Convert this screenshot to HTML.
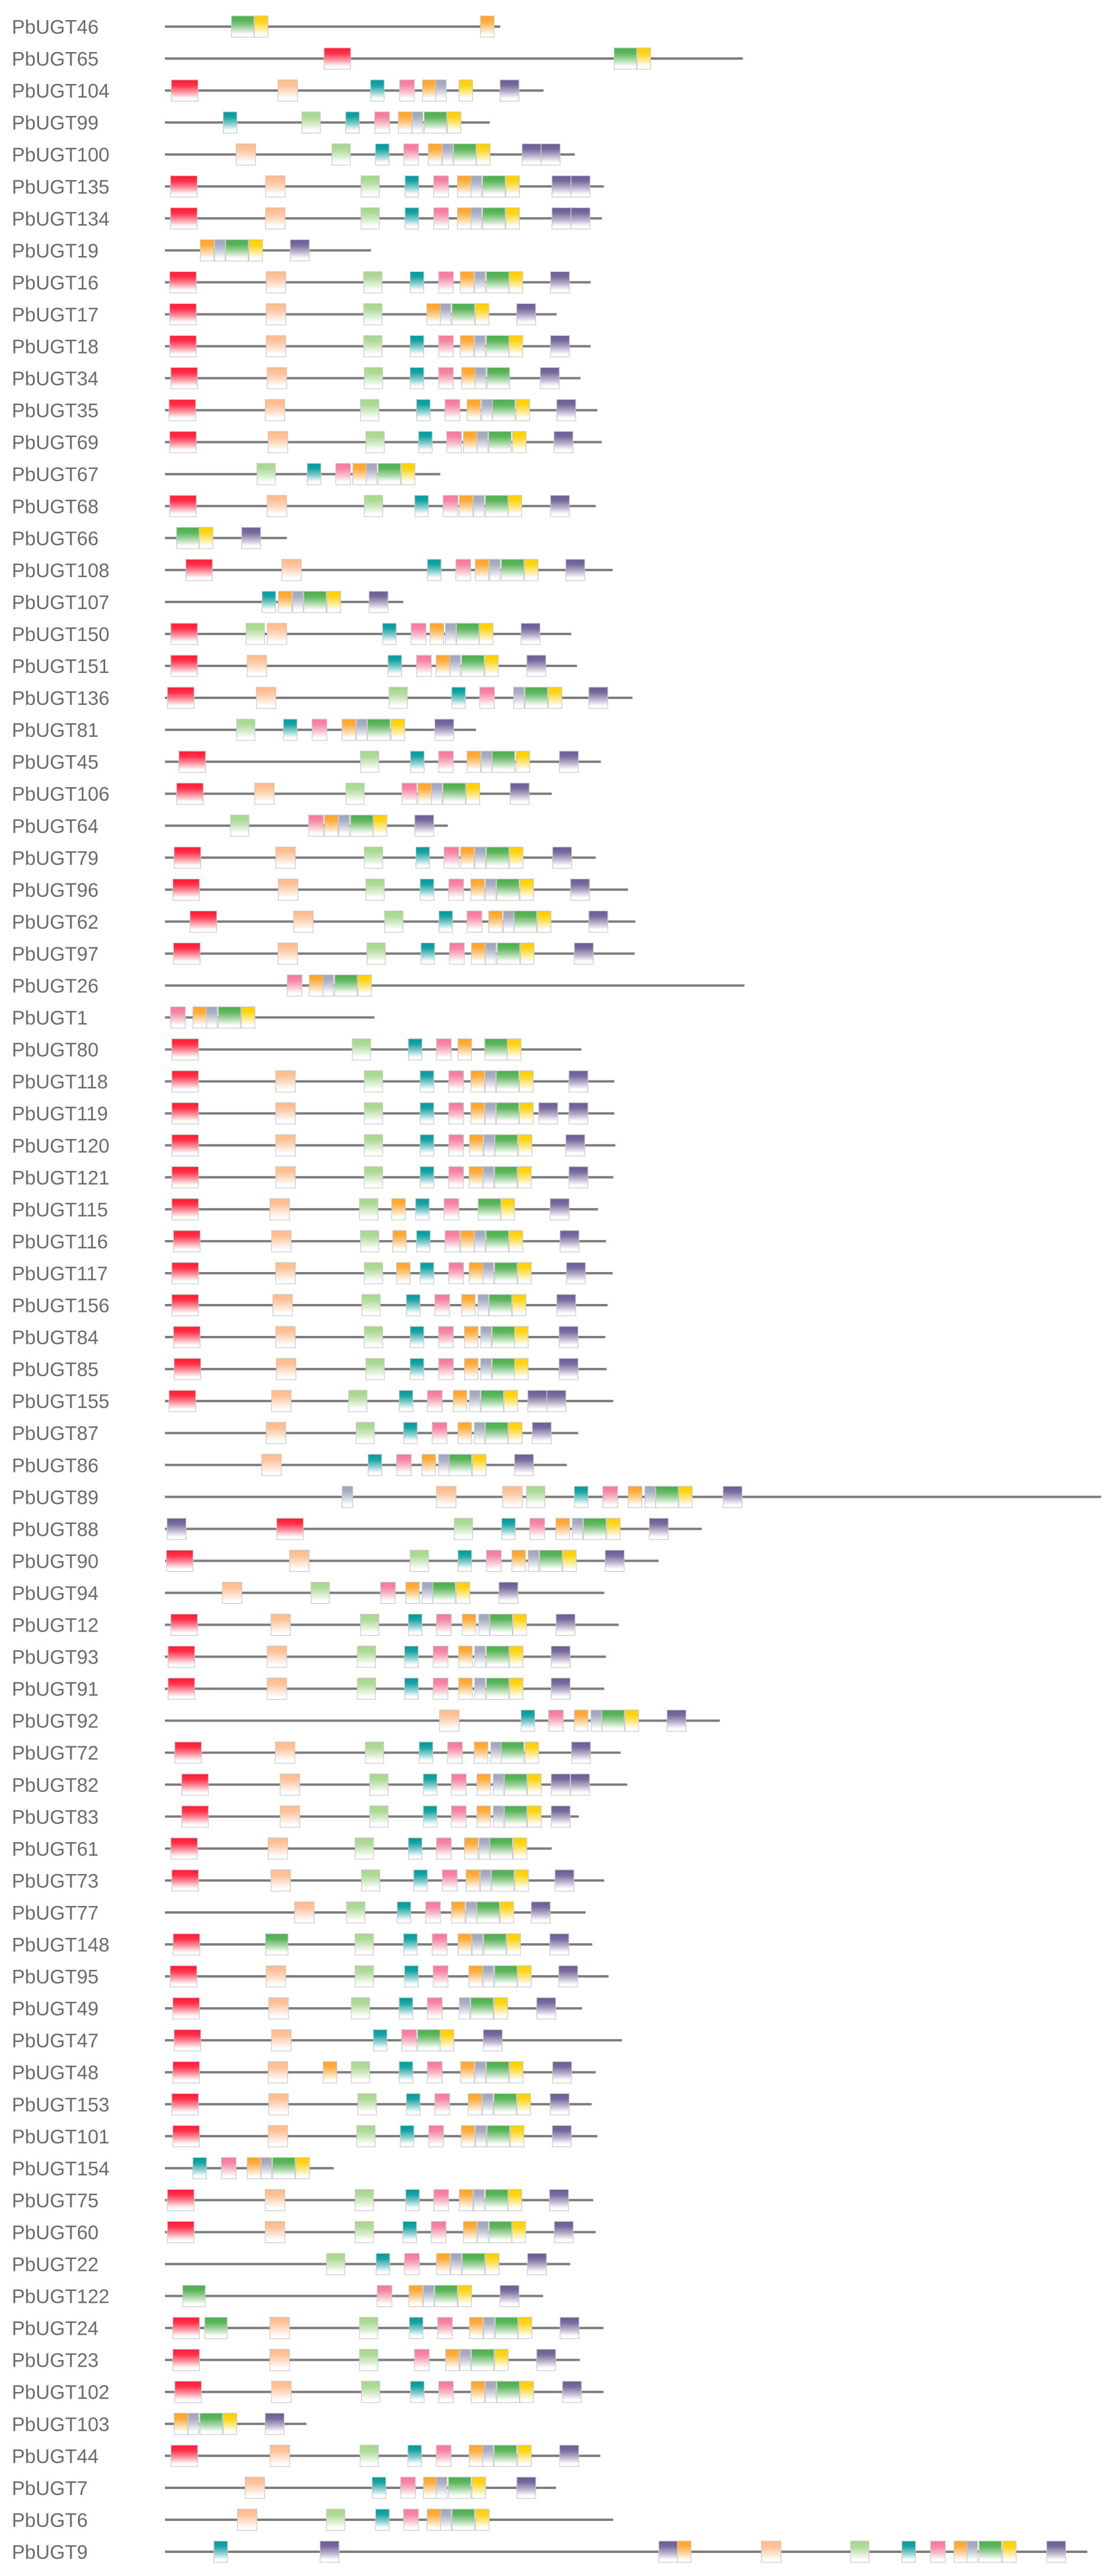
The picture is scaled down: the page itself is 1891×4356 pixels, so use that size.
<!DOCTYPE html>
<html>
<head>
<meta charset="utf-8">
<style>
  html,body{margin:0;padding:0;background:#fff;}
  #chart{display:block;}
</style>
</head>
<body>
<svg id="chart" width="1891" height="4356" xmlns="http://www.w3.org/2000/svg">
  <defs id="defs"></defs>
  <g id="rows"></g>
</svg>
<script>
const genes = ["PbUGT46","PbUGT65","PbUGT104","PbUGT99","PbUGT100","PbUGT135","PbUGT134","PbUGT19","PbUGT16","PbUGT17","PbUGT18","PbUGT34","PbUGT35","PbUGT69","PbUGT67","PbUGT68","PbUGT66","PbUGT108","PbUGT107","PbUGT150","PbUGT151","PbUGT136","PbUGT81","PbUGT45","PbUGT106","PbUGT64","PbUGT79","PbUGT96","PbUGT62","PbUGT97","PbUGT26","PbUGT1","PbUGT80","PbUGT118","PbUGT119","PbUGT120","PbUGT121","PbUGT115","PbUGT116","PbUGT117","PbUGT156","PbUGT84","PbUGT85","PbUGT155","PbUGT87","PbUGT86","PbUGT89","PbUGT88","PbUGT90","PbUGT94","PbUGT12","PbUGT93","PbUGT91","PbUGT92","PbUGT72","PbUGT82","PbUGT83","PbUGT61","PbUGT73","PbUGT77","PbUGT148","PbUGT95","PbUGT49","PbUGT47","PbUGT48","PbUGT153","PbUGT101","PbUGT154","PbUGT75","PbUGT60","PbUGT22","PbUGT122","PbUGT24","PbUGT23","PbUGT102","PbUGT103","PbUGT44","PbUGT7","PbUGT6","PbUGT9"];

const lengths = [204,351.6,230.4,197.6,249.4,267,265.8,125.4,259,238.3,259,252.8,263.1,265.8,167.5,262.1,74.2,272.4,145,247.2,250.7,284.4,189.2,265.2,235.3,172.1,262.1,281.7,286.2,285.8,352.6,127.5,253.4,273.4,273.4,274,272.8,263.5,268.3,272.4,269.3,267.9,268.7,272.8,251.4,244.5,569.6,326.6,300.3,267.3,276.1,268.3,267.3,337.6,277.2,281.3,251.8,235.3,267.3,255.9,260,269.9,253.8,278,262.1,259.6,263.1,102.7,260.6,262.1,246.6,230.1,266.8,252.4,266.8,86,264.9,238,272.7,561.2];

const motifs = [
 "G 40.5|Y 54.4|O 192",
 "R 96.8|G 273.3|Y 287.2",
 "R 3.9|P 68.8|T 125.1|K 142.8|O 156.7|S 164.7|Y 178.9|V 203.9",
 "T 35.5|L 83.4|T 110|K 127.6|O 142|S 150.4|G 157.7|Y 171.8",
 "P 43.3|L 101.6|T 128.1|K 145.3|O 160.2|S 168.8|G 175.6|Y 189.5|V 217.3|V 228.9",
 "R 3.4|P 61.2|L 119.3|T 146.1|K 163.5|O 177.9|S 186.2|G 193.3|Y 207.4|V 235.5|V 247.1",
 "R 3.4|P 61.2|L 119.3|T 146.1|K 163.5|O 177.9|S 186.2|G 193.3|Y 207.4|V 235.5|V 247.1",
 "O 21.5|S 30.2|G 37|Y 51.1|V 76.3",
 "R 2.9|P 61.6|L 120.9|T 149.2|K 166.5|O 179.7|S 188.4|G 195.6|Y 209.4|V 234.6",
 "R 2.9|P 61.6|L 120.9|O 159.3|S 167.5|G 174.7|Y 188.8|V 214",
 "R 2.9|P 61.6|L 120.9|T 149.2|K 166.5|O 179.7|S 188.4|G 195.6|Y 209.4|V 234.6",
 "R 3.6|P 62.2|L 121.3|T 149.2|K 166.5|O 180.5|S 188.8|G 196|V 228.4",
 "R 2.5|P 61|L 119|T 153.1|K 170.4|O 183.8|S 192.7|G 199.3|Y 213.6|V 238.4",
 "R 2.9|P 62.8|L 122.3|T 154.3|K 171.4|O 181.6|S 190|G 197|Y 211.5|V 236.7",
 "L 56|T 86.6|K 103.9|O 114.3|S 122.5|G 129.7|Y 143.8",
 "R 2.9|P 62.2|L 121.3|T 152|K 169.2|O 179.1|S 187.8|G 195|Y 208.8|V 234.6",
 "G 7.1|Y 20.9|V 46.7",
 "R 12.7|P 71.1|T 159.7|K 177|O 188.8|S 197.5|G 204.7|Y 218.7|V 243.9",
 "T 59.1|O 69|S 77.7|G 84.5|Y 98.6|V 124.2",
 "R 3.6|L 49.4|P 62.2|T 132.4|K 149.8|O 161.3|S 170.6|G 177.4|Y 191.3|V 216.7",
 "R 3.6|P 50|T 135.7|K 153.1|O 165|S 173.3|G 180.5|Y 194.6|V 220.2",
 "R 1.5|P 55.6|L 136.3|T 174.5|K 191.5|S 212.1|G 219.1|Y 233.2|V 257.9",
 "L 43.6|T 72.1|K 89.5|O 107.8|S 116.5|G 123.3|Y 137.6|V 164.2",
 "R 8.5|L 119|T 149.4|K 166.5|O 183.8|S 192.5|G 199.1|Y 213.6|V 240",
 "R 7.1|P 54.6|L 110.1|K 144.2|O 153.9|S 162.2|G 169.2|Y 183.2|V 210.1",
 "L 39.9|K 87.4|O 97.1|S 105.8|G 113|Y 126.8|V 152",
 "R 5.6|P 67.4|L 121.3|T 152.7|K 169.8|O 179.9|S 188.6|G 195.6|Y 209.6|V 235.9",
 "R 4.8|P 69|L 122.3|T 155.3|K 172.7|O 186.1|S 195|G 201.8|Y 216|V 246.8",
 "R 15.3|P 78.3|L 133.7|T 166.7|K 183.8|O 197|S 205.9|G 212.5|Y 226.6|V 257.9",
 "R 5.2|P 68.8|L 122.9|T 155.8|K 173.1|O 186.5|S 195|G 202.2|Y 216.3|V 249.1",
 "K 74.4|O 87.8|S 96.1|G 103.3|Y 117.3",
 "K 3.4|O 17|S 25.3|G 32.5|Y 46.5",
 "R 4.2|L 114|T 148.1|K 165.2|O 178.3|G 194.6|Y 208.4",
 "R 4.2|P 67.4|L 121.3|T 155.3|K 172.7|O 186.1|S 194.8|G 201.6|Y 215.8|V 245.8",
 "R 4.2|P 67.4|L 121.3|T 155.3|K 172.7|O 186.1|S 194.8|G 201.6|Y 215.8|V 227.4|V 245.8",
 "R 4.2|P 67.4|L 121.3|T 155.3|K 172.7|O 185.3|S 194|G 200.8|Y 215|V 243.9",
 "R 4.2|P 67.4|L 121.3|T 155.3|K 172.7|O 185.1|S 193.6|G 200.6|Y 214.6|V 245.8",
 "R 4.2|P 63.9|L 118.4|O 138|T 152.5|K 169.8|G 190.6|Y 204.5|V 234.4",
 "R 5.2|P 64.9|L 119|O 138.6|T 153.1|K 170.4|O 179.9|S 188.4|G 195.4|Y 209.4|V 240.4",
 "R 4.2|P 67.4|L 121.3|O 140.9|T 155.3|K 172.7|O 185.1|S 193.5|G 200.6|Y 214.6|V 244.3",
 "R 4.2|P 65.7|L 119.8|T 146.9|K 164.2|O 180.5|S 190.4|G 197.3|Y 211.3|V 238.4",
 "R 5.2|P 67.4|L 121.3|T 149.2|K 166.5|O 182.2|S 192.1|G 199.1|Y 212.7|V 239.8",
 "R 5.6|P 67.8|L 122.3|T 149.2|K 166.5|O 182.2|S 192.1|G 199.1|Y 212.7|V 239.8",
 "R 2.5|P 64.9|L 111.8|T 142.5|K 159.7|O 175.4|S 185.3|G 192.3|Y 206.3|V 220.8|V 232.4",
 "P 61.6|L 116.3|T 145.2|K 162.6|O 178.3|S 188.2|G 195|Y 209|V 223.5",
 "P 58.9|T 123.6|K 140.9|O 156.4|S 166.5|G 172.9|Y 187.1|V 212.7",
 "S 107.8|P 165.2|P 205.5|L 220|T 249.1|K 266.4|O 281.9|S 292|G 298.6|Y 312.6|V 339.6",
 "V 1.3|R 68|L 176|T 204.9|K 222|O 237.9|S 247.8|G 254.7|Y 268.7|V 294.7",
 "R 0.9|P 75.8|L 149.2|T 178.3|K 195.6|O 211.1|S 221|G 228|Y 242|V 267.9",
 "P 34.9|L 88.9|K 131.2|O 146.5|S 156.4|G 163|Y 177.2|V 203.2",
 "R 3.6|P 64.5|L 119|T 148.1|K 165.2|O 180.9|S 190.9|G 197.7|Y 211.7|V 238",
 "R 1.9|P 62.2|L 117|T 145.8|K 163.2|O 178.7|S 188.4|G 195.6|Y 209.6|V 235",
 "R 1.9|P 62.2|L 117|T 145.8|K 163.2|O 178.7|S 188.4|G 195.6|Y 209.6|V 235",
 "P 167.1|T 216.7|K 233.4|O 249.1|S 259.2|G 265.8|Y 279.9|V 305.5",
 "R 6|P 67.2|L 121.9|T 154.7|K 172|O 188.2|S 198.3|G 204.7|Y 219.1|V 247.4",
 "R 10.2|P 70.1|L 124.6|T 157.2|K 174.3|O 189.8|S 199.7|G 206.5|Y 220.6|V 235|V 246.8",
 "R 10.2|P 70.1|L 124.6|T 157.2|K 174.3|O 189.8|S 199.7|G 206.5|Y 220.6|V 235",
 "R 3.6|P 62.8|L 115.7|T 148.1|K 165.2|O 182.2|S 191.1|G 197.7|Y 211.9",
 "R 4.2|P 64.5|L 119.6|T 151.4|K 168.8|O 183.2|S 191.9|G 198.7|Y 212.9|V 237.3",
 "P 78.9|L 110.5|T 141.3|K 158.6|O 174.3|S 183.2|G 189.8|Y 203.9|V 222.9",
 "R 5|G 61.2|L 115.7|T 145.2|K 162.6|O 178.3|S 186.9|G 193.9|Y 208|V 234.2",
 "R 3.2|P 61.6|L 115.7|T 145.8|K 163.2|O 184.9|S 193.5|G 200.6|Y 214.6|V 239.6",
 "R 4.8|P 63.2|L 113.4|T 142.5|K 159.7|S 179.1|G 186.1|Y 200.2|V 226.2",
 "R 5.6|P 64.9|T 126.8|K 144|G 153.7|Y 167.5|V 193.7",
 "R 4.8|P 62.8|O 96.3|L 113.4|T 142.5|K 159.7|O 179.9|S 188.6|G 195.6|Y 209.6|V 235.9",
 "R 4.2|P 63.2|L 117.4|T 146.9|K 164.2|O 184.5|S 193.1|G 200.2|Y 214.2|V 234.4",
 "R 4.8|P 62.8|L 116.7|T 143.2|K 160.5|O 180.3|S 189|G 196|Y 210.1|V 235.7",
 "T 17|K 34.3|O 50|S 58.5|G 65.5|Y 79.6",
 "R 1.5|P 61|L 115.7|T 146.5|K 163.6|O 179.1|S 187.8|G 195|Y 208.8|V 234",
 "R 1.5|P 61|L 115.7|T 144.8|K 162|O 181.6|S 190.2|G 197.3|Y 211.1|V 236.9",
 "L 98.3|T 128.5|K 145.8|O 165.2|S 173.9|G 180.9|Y 195|V 220.6",
 "G 10.8|K 129.1|O 148.5|S 157.2|G 164.2|Y 178.3|V 203.9",
 "R 4.8|G 24.2|P 63.9|L 118.4|T 148.7|K 165.9|O 185.3|S 194|G 201|Y 215|V 240.4",
 "R 4.8|P 63.9|L 118.4|K 151.8|O 170.8|S 179.5|G 186.5|Y 200.6|V 226.2",
 "R 6|P 64.9|L 119.6|T 149.4|K 166.5|O 186.3|S 195|G 202|Y 216|V 241.9",
 "O 5.6|S 14.1|G 21.3|Y 35.4|V 61",
 "R 3.7|P 64|L 118.7|T 147.8|K 165.1|O 185.1|S 193.3|G 200.3|Y 214.6|V 240.2",
 "P 48.8|T 126.1|K 143.4|O 157.3|S 165.1|G 172.5|Y 186.8|V 214.1",
 "P 44.1|L 98.3|T 128.2|K 145.2|O 159.5|S 167.7|G 174.7|Y 189",
 "T 29.8|V 94.4|V 300.5|O 311.8|P 362.9|L 417.2|T 448.4|K 465.8|O 480.1|S 487.9|G 495.3|Y 509.6|V 536.5"
];

// styling (not data)
const X0 = 279, KX = 2.78, Y0 = 45, DY = 54.05, BOX_H = 36;
const motifStyle = {
  R:{w:45,c:"#ff1a35",n:"red-motif"},
  P:{w:33,c:"#ffbb8c",n:"peach-motif"},
  L:{w:31,c:"#a6d68c",n:"light-green-motif"},
  T:{w:23,c:"#00999a",n:"teal-motif"},
  K:{w:25,c:"#f5789a",n:"pink-motif"},
  O:{w:23,c:"#ffa328",n:"orange-motif"},
  S:{w:18,c:"#9fa4ba",n:"slate-motif"},
  G:{w:38,c:"#4cae4c",n:"green-motif"},
  Y:{w:23,c:"#ffcf00",n:"yellow-motif"},
  V:{w:32,c:"#6a5b94",n:"purple-motif"}
};
function xScale(v){ return X0 + v*KX; }
function yScale(i){ return Y0 + i*DY; }

const NS = "http://www.w3.org/2000/svg";
const defs = document.getElementById("defs");
Object.keys(motifStyle).forEach(k=>{
  const g = document.createElementNS(NS,"linearGradient");
  g.setAttribute("id","grad-"+k);
  g.setAttribute("x1","0");g.setAttribute("y1","0");g.setAttribute("x2","0");g.setAttribute("y2","1");
  [[0,1],[0.25,0.9],[0.55,0.5],[0.85,0.03],[1,0]].forEach(([o,a])=>{
    const s=document.createElementNS(NS,"stop");
    s.setAttribute("offset",o);
    s.setAttribute("stop-color",motifStyle[k].c);
    s.setAttribute("stop-opacity",a);
    g.appendChild(s);
  });
  defs.appendChild(g);
});

const root = document.getElementById("rows");
genes.forEach((name,i)=>{
  const y = yScale(i);
  const g = document.createElementNS(NS,"g");
  
  
  const t = document.createElementNS(NS,"text");
  
  
  t.setAttribute("x",20);t.setAttribute("y",y+12);
  t.setAttribute("font-family","'Liberation Sans', sans-serif");
  t.setAttribute("font-size","33");t.setAttribute("fill","#6b6b6b");
  t.textContent = name;
  g.appendChild(t);
  const ln = document.createElementNS(NS,"line");
  
  
  ln.setAttribute("x1",xScale(0));ln.setAttribute("x2",xScale(lengths[i]));
  ln.setAttribute("y1",y);ln.setAttribute("y2",y);
  ln.setAttribute("stroke","#7c7c7c");ln.setAttribute("stroke-width","4");
  g.appendChild(ln);
  motifs[i].split("|").forEach(m=>{
    const [k,v] = m.split(" ");
    const st = motifStyle[k];
    const bx = xScale(parseFloat(v));
    const bg = document.createElementNS(NS,"rect");
    
    
    bg.setAttribute("x",bx);bg.setAttribute("y",y-BOX_H/2);
    bg.setAttribute("width",st.w);bg.setAttribute("height",BOX_H);
    bg.setAttribute("fill","#ffffff");
    g.appendChild(bg);
    const r = document.createElementNS(NS,"rect");
    
    
    r.setAttribute("x",bx);
    r.setAttribute("y",y-BOX_H/2);
    r.setAttribute("width",st.w);r.setAttribute("height",BOX_H);
    r.setAttribute("fill","url(#grad-"+k+")");
    r.setAttribute("stroke","#c9c9c9");r.setAttribute("stroke-width","1.2");
    g.appendChild(r);
  });
  root.appendChild(g);
});
</script>
</body>
</html>
